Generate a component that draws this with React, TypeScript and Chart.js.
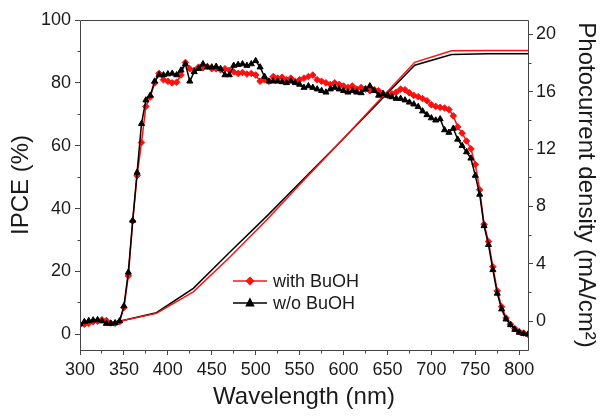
import React, { useEffect, useRef } from 'react';
import { Chart, registerables } from 'chart.js';

Chart.register(...registerables);

// ---------- data ----------
const wavelengths = [
  300, 305, 310, 315, 320, 325, 330, 335, 340, 345,
  350, 355, 360, 365, 370, 375, 380, 385, 390, 395,
  400, 405, 410, 415, 420, 425, 430, 435, 440, 445,
  450, 455, 460, 465, 470, 475, 480, 485, 490, 495,
  500, 505, 510, 515, 520, 525, 530, 535, 540, 545,
  550, 555, 560, 565, 570, 575, 580, 585, 590, 595,
  600, 605, 610, 615, 620, 625, 630, 635, 640, 645,
  650, 655, 660, 665, 670, 675, 680, 685, 690, 695,
  700, 705, 710, 715, 720, 725, 730, 735, 740, 745,
  750, 755, 760, 765, 770, 775, 780, 785, 790, 795,
  800, 805, 810,
];

const ipceWithBuOH = [
  3.0, 3.2, 3.5, 4.0, 4.2, 4.6, 4.4, 3.6, 3.5, 4.0,
  8.5, 18.6, 36.0, 50.5, 61.0, 72.5, 75.5, 80.0, 83.0, 81.0,
  80.5, 80.0, 80.2, 82.5, 86.5, 84.5, 84.0, 85.0, 84.8, 85.2,
  84.5, 84.5, 84.2, 84.5, 84.0, 83.5, 83.0, 83.3, 82.8, 83.0,
  82.5, 80.5, 81.0, 80.5, 82.0, 81.5, 81.8, 81.0, 81.5, 80.5,
  81.0, 81.5, 82.0, 82.5, 81.0, 80.5, 80.0, 79.5, 80.0, 79.5,
  79.0, 78.5, 79.0, 78.0, 78.5, 78.0, 77.5, 77.8, 77.5, 76.5,
  76.0, 76.5, 77.0, 78.0, 77.8, 76.8, 76.0, 75.6, 75.0, 74.3,
  73.0, 72.5, 72.2, 72.0, 71.5, 69.5, 66.0, 64.0, 61.5, 59.0,
  54.0, 46.0, 35.0, 29.5, 21.5, 13.8, 8.8, 5.2, 3.2, 1.8,
  0.8, 0.4, 0.0,
];

const ipceWithoutBuOH = [
  3.3, 4.0, 4.3, 4.5, 4.6, 4.2, 3.4, 3.4, 3.6, 4.2,
  9.0, 19.7, 36.2, 51.5, 67.0, 74.5, 76.0, 80.5, 82.5, 82.5,
  82.8, 83.0, 82.5, 84.0, 86.0, 80.5, 83.5, 84.5, 86.0, 85.0,
  85.0, 85.2, 84.5, 82.5, 82.5, 85.5, 85.8, 86.0, 85.5, 86.0,
  87.0, 85.0, 82.0, 80.5, 80.5, 80.5, 80.3, 80.0, 80.5, 80.0,
  79.5, 78.5, 79.0, 78.5, 78.0, 77.5, 77.0, 78.0, 78.5, 78.0,
  77.5, 77.0, 77.5, 77.0, 76.8, 78.0, 79.0, 77.5, 76.0, 76.5,
  76.0, 75.5, 75.0, 75.0, 74.5, 73.8, 73.2, 72.4, 71.0, 69.8,
  68.8, 68.1, 68.5, 65.0, 64.2, 65.5, 62.0, 60.0, 58.0, 56.0,
  50.5, 44.5, 34.5, 28.5, 20.5, 13.0, 8.0, 4.8, 3.0, 1.5,
  0.6, 0.2, 0.0,
];

const jscWavelengths = [345, 387, 429, 471, 513, 555, 597, 639, 681, 723, 765, 810];
const jscWithBuOH = [0, 0.55, 2.05, 4.5, 7.1, 9.85, 12.55, 15.3, 18.05, 18.85, 18.88, 18.88];
const jscWithoutBuOH = [0, 0.6, 2.3, 4.85, 7.35, 9.95, 12.55, 15.2, 17.85, 18.6, 18.65, 18.65];

const xTicks = [300, 350, 400, 450, 500, 550, 600, 650, 700, 750, 800];
const xMinorTicks = [325, 375, 425, 475, 525, 575, 625, 675, 725, 775];
const yTicks = [0, 20, 40, 60, 80, 100];
const yMinorTicks = [10, 30, 50, 70, 90];
const y2Ticks = [0, 4, 8, 12, 16, 20];
const y2MinorTicks = [2, 6, 10, 14, 18];

const legendLabels = ['with BuOH', 'w/o BuOH'];

// ---------- styles ----------
const FONT = '"Liberation Sans", Arial, Helvetica, sans-serif';
const AXIS_COLOR = '#444444';
const TEXT_COLOR = '#1a1a1a';
const RED = '#ff1010';
const BLACK = '#000000';

const toXY = (xs: number[], ys: number[]) => xs.map((x, i) => ({ x, y: ys[i] }));

function drawMarker(ctx: CanvasRenderingContext2D, style: string, x: number, y: number, r: number, color: string) {
  ctx.save();
  ctx.fillStyle = color;
  ctx.strokeStyle = color;
  ctx.beginPath();
  if (style === 'triangle') {
    ctx.moveTo(x, y - r * 1.15);
    ctx.lineTo(x + r, y + r * 0.75);
    ctx.lineTo(x - r, y + r * 0.75);
  } else {
    ctx.moveTo(x, y - r);
    ctx.lineTo(x + r, y);
    ctx.lineTo(x, y + r);
    ctx.lineTo(x - r, y);
  }
  ctx.closePath();
  ctx.fill();
  ctx.stroke();
  ctx.restore();
}

const alignPx = (v: number) => Math.floor(v) + 0.5;

const framePlugin = {
  id: 'frameMinor',
  afterDraw(chart: any) {
    const { ctx, chartArea, scales } = chart;
    const { left, right, top, bottom } = chartArea;
    ctx.save();
    ctx.strokeStyle = AXIS_COLOR;
    ctx.lineWidth = 1;
    ctx.beginPath();
    ctx.rect(alignPx(left), alignPx(top), alignPx(right) - alignPx(left), alignPx(bottom) - alignPx(top));
    ctx.stroke();
    const minorLen = 3;
    ctx.beginPath();
    xMinorTicks.forEach((v) => {
      const p = alignPx(scales.x.getPixelForValue(v));
      ctx.moveTo(p, alignPx(bottom));
      ctx.lineTo(p, alignPx(bottom) + minorLen);
    });
    yMinorTicks.forEach((v) => {
      const p = alignPx(scales.y.getPixelForValue(v));
      ctx.moveTo(alignPx(left), p);
      ctx.lineTo(alignPx(left) - minorLen, p);
    });
    y2MinorTicks.forEach((v) => {
      const p = alignPx(scales.y2.getPixelForValue(v));
      ctx.moveTo(alignPx(right), p);
      ctx.lineTo(alignPx(right) + minorLen, p);
    });
    ctx.stroke();
    ctx.restore();
  },
};

const legendPlugin = {
  id: 'customLegend',
  afterDatasetsDraw(chart: any) {
    const { ctx, chartArea } = chart;
    const items = [
      { text: legendLabels[0], color: RED, style: 'rectRot' },
      { text: legendLabels[1], color: BLACK, style: 'triangle' },
    ];
    const x0 = chartArea.left + 153;
    items.forEach((it, i) => {
      const y = chartArea.top + 261 + i * 22;
      ctx.save();
      ctx.strokeStyle = it.color;
      ctx.lineWidth = 1.5;
      ctx.beginPath();
      ctx.moveTo(x0, y);
      ctx.lineTo(x0 + 34, y);
      ctx.stroke();
      drawMarker(ctx, it.style, x0 + 17, y, 3.5, it.color);
      ctx.fillStyle = TEXT_COLOR;
      ctx.font = `18px ${FONT}`;
      ctx.textAlign = 'left';
      ctx.textBaseline = 'middle';
      ctx.fillText(it.text, x0 + 40, y + 1);
      ctx.restore();
    });
  },
};

const tickFont = { family: FONT, size: 18 };
const titleFont = { family: FONT, size: 24 };

export default function App() {
  const ref = useRef<HTMLCanvasElement>(null);

  useEffect(() => {
    if (!ref.current) return;
    const chart = new Chart(ref.current, {
      type: 'line',
      data: {
        datasets: [
          {
            label: 'IPCE w/o BuOH',
            data: toXY(wavelengths, ipceWithoutBuOH),
            yAxisID: 'y',
            borderColor: BLACK,
            backgroundColor: BLACK,
            borderWidth: 1.5,
            pointStyle: 'triangle',
            pointRadius: 3.5,
            pointBorderWidth: 1,
            tension: 0,
          },
          {
            label: 'IPCE with BuOH',
            data: toXY(wavelengths, ipceWithBuOH),
            yAxisID: 'y',
            borderColor: RED,
            backgroundColor: RED,
            borderWidth: 1.5,
            pointStyle: 'rectRot',
            pointRadius: 3.3,
            pointBorderWidth: 1,
            tension: 0,
          },
          {
            label: 'Jsc with BuOH',
            data: toXY(jscWavelengths, jscWithBuOH),
            yAxisID: 'y2',
            borderColor: RED,
            borderWidth: 1.5,
            pointRadius: 0,
            tension: 0,
          },
          {
            label: 'Jsc w/o BuOH',
            data: toXY(jscWavelengths, jscWithoutBuOH),
            yAxisID: 'y2',
            borderColor: BLACK,
            borderWidth: 1.5,
            pointRadius: 0,
            tension: 0,
          },
        ],
      },
      options: {
        animation: false,
        responsive: true,
        maintainAspectRatio: false,
        layout: { padding: { top: 20, left: 0, right: 0, bottom: 0 } },
        plugins: { legend: { display: false }, tooltip: { enabled: false } },
        scales: {
          x: {
            type: 'linear',
            position: 'bottom',
            min: 300,
            max: 810,
            afterBuildTicks: (s: any) => {
              s.ticks = xTicks.map((value) => ({ value }));
            },
            afterFit: (s: any) => {
              s.height = 67;
            },
            ticks: { font: tickFont, color: TEXT_COLOR, padding: 4, maxRotation: 0, autoSkip: false },
            grid: { drawOnChartArea: false, drawTicks: true, tickLength: 5, tickColor: AXIS_COLOR },
            border: { display: false },
            title: {
              display: true,
              text: 'Wavelength (nm)',
              font: titleFont,
              color: TEXT_COLOR,
              padding: { top: 0, bottom: 5 },
            },
          },
          y: {
            type: 'linear',
            position: 'left',
            min: -5,
            max: 100,
            afterBuildTicks: (s: any) => {
              s.ticks = yTicks.map((value) => ({ value }));
            },
            afterFit: (s: any) => {
              s.width = 80;
            },
            ticks: { font: tickFont, color: TEXT_COLOR, padding: 4 },
            grid: { drawOnChartArea: false, drawTicks: true, tickLength: 5, tickColor: AXIS_COLOR },
            border: { display: false },
            title: {
              display: true,
              text: 'IPCE (%)',
              font: titleFont,
              color: TEXT_COLOR,
              padding: { top: 7, bottom: 0 },
            },
          },
          y2: {
            type: 'linear',
            position: 'right',
            min: -2,
            max: 21,
            afterBuildTicks: (s: any) => {
              s.ticks = y2Ticks.map((value) => ({ value }));
            },
            afterFit: (s: any) => {
              s.width = 73;
            },
            ticks: { font: tickFont, color: TEXT_COLOR, padding: 3 },
            grid: { drawOnChartArea: false, drawTicks: true, tickLength: 5, tickColor: AXIS_COLOR },
            border: { display: false },
            title: {
              display: true,
              text: 'Photocurrent density (mA/cm²)',
              font: titleFont,
              color: TEXT_COLOR,
              padding: { top: 1, bottom: 0 },
            },
          },
        },
      },
      plugins: [framePlugin, legendPlugin],
    } as any);
    return () => chart.destroy();
  }, []);

  return (
    <div style={{ position: 'absolute', left: 0, top: 0, width: 601, height: 417, background: '#fff' }}>
      <canvas ref={ref} />
    </div>
  );
}
